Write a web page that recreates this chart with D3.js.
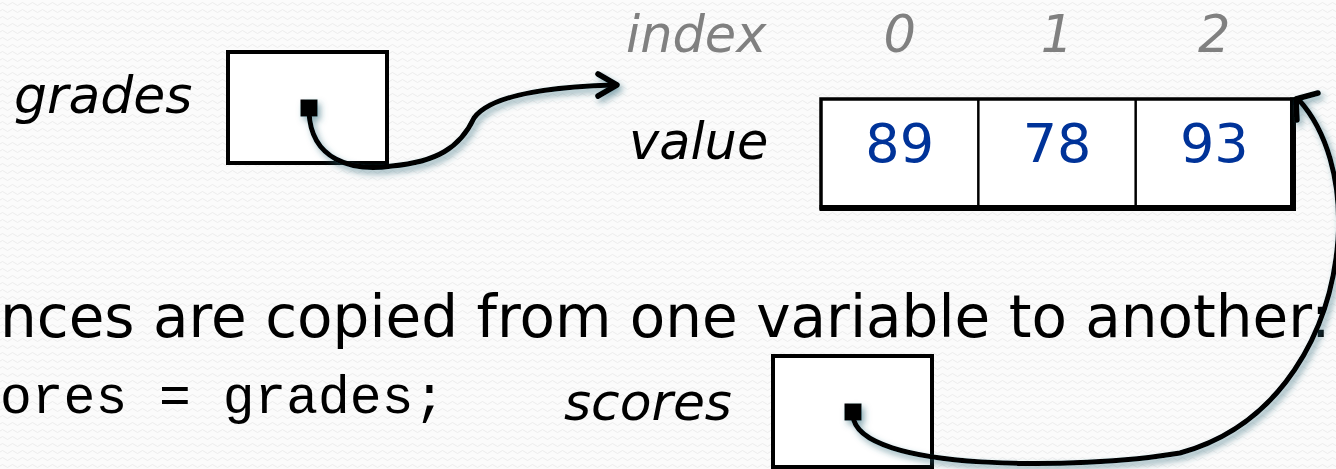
<!DOCTYPE html>
<html>
<head>
<meta charset="utf-8">
<script src="https://cdn.jsdelivr.net/npm/d3@7"></script>
<style>
  html, body { margin: 0; padding: 0; overflow: hidden; background: #fbfbfb; }
  svg { display: block; }
</style>
</head>
<body>
<svg id="chart" width="1336" height="469"></svg>
<script>
// ---- data ----
const indexLabels = ["0", "1", "2"];
const values = [89, 78, 93];
const headingText = "nces are copied from one variable to another:";
const codeText = "ores = grades;";
const varNames = ["grades", "scores"];
const rowLabels = ["index", "value"];

const W = 1336, H = 469;
const svg = d3.select("#chart");
const defs = svg.append("defs");

// background texture
const pat = defs.append("pattern").attr("id", "bg").attr("width", 10).attr("height", 7)
  .attr("patternUnits", "userSpaceOnUse");
pat.append("rect").attr("width", 10).attr("height", 7).attr("fill", "#fbfbfb");
pat.append("path").attr("d", "M0,4 Q2.5,1 5,4 T10,4").attr("fill", "none")
  .attr("stroke", "#ececec").attr("stroke-width", 1);
svg.append("rect").attr("width", W).attr("height", H).attr("fill", "url(#bg)");

// shadow
const f = defs.append("filter").attr("id", "shadow").attr("x", "-20%").attr("y", "-20%")
  .attr("width", "140%").attr("height", "140%");
f.append("feDropShadow").attr("dx", 3).attr("dy", 4).attr("stdDeviation", 3)
  .attr("flood-color", "#2f6a7a").attr("flood-opacity", 0.55);

// scales
const x = d3.scaleBand().domain(d3.range(values.length)).range([821, 1293]).padding(0);
const arrTop = 99, arrBottom = 208;

// ---- texts ----
const sans = "'DejaVu Sans', Verdana, sans-serif";
const mono = "'Liberation Mono', 'Courier New', monospace";

svg.append("text").attr("x", 14).attr("y", 113).attr("font-family", sans)
  .attr("font-style", "italic").attr("font-size", 52).attr("fill", "#000").text(varNames[0]);

svg.append("text").attr("x", 626).attr("y", 52).attr("font-family", sans)
  .attr("font-style", "italic").attr("font-size", 51).attr("fill", "#808080").text(rowLabels[0]);
svg.append("text").attr("x", 629).attr("y", 159).attr("font-family", sans)
  .attr("font-style", "italic").attr("font-size", 51).attr("fill", "#000").text(rowLabels[1]);

svg.selectAll("text.idx").data(indexLabels).join("text").attr("class", "idx")
  .attr("x", (d, i) => x(i) + x.bandwidth() / 2).attr("y", 52)
  .attr("text-anchor", "middle").attr("font-family", sans).attr("font-style", "italic")
  .attr("font-size", 51).attr("fill", "#808080").text(d => d);

svg.append("text").attr("x", 0).attr("y", 337).attr("font-family", sans)
  .attr("font-size", 58).attr("fill", "#000").text(headingText);

svg.append("text").attr("x", 0).attr("y", 413).attr("font-family", mono)
  .attr("font-size", 53).attr("fill", "#000").attr("xml:space", "preserve").text(codeText);

svg.append("text").attr("x", 564).attr("y", 420).attr("font-family", sans)
  .attr("font-style", "italic").attr("font-size", 52).attr("fill", "#000").text(varNames[1]);

// ---- variable boxes ----
function varBox(bx, by) {
  svg.append("rect").attr("x", bx).attr("y", by).attr("width", 159).attr("height", 111)
    .attr("fill", "#fff").attr("stroke", "#000").attr("stroke-width", 4);
}
varBox(228, 52);
varBox(773, 356);

// ---- array ----
svg.append("rect").attr("x", x(0)).attr("y", arrTop).attr("width", x.range()[1] - x(0))
  .attr("height", arrBottom - arrTop).attr("fill", "#fff").attr("stroke", "#000").attr("stroke-width", 3.5);
svg.selectAll("line.div").data(d3.range(1, values.length)).join("line").attr("class", "div")
  .attr("x1", d => x(d)).attr("x2", d => x(d)).attr("y1", arrTop).attr("y2", arrBottom)
  .attr("stroke", "#000").attr("stroke-width", 2.5);
svg.append("line").attr("x1", x.range()[1]).attr("x2", x.range()[1]).attr("y1", arrTop - 1.5).attr("y2", arrBottom + 3)
  .attr("stroke", "#000").attr("stroke-width", 6);
svg.append("line").attr("x1", x(0) - 1.5).attr("x2", x.range()[1] + 3).attr("y1", arrBottom).attr("y2", arrBottom)
  .attr("stroke", "#000").attr("stroke-width", 6);

svg.selectAll("text.val").data(values).join("text").attr("class", "val")
  .attr("x", (d, i) => x(i) + x.bandwidth() / 2).attr("y", 162)
  .attr("text-anchor", "middle").attr("font-family", sans).attr("font-size", 54)
  .attr("fill", "#003399").text(d => d);

// ---- pointers ----
const g = svg.append("g").attr("filter", "url(#shadow)");
function dot(cx, cy) {
  g.append("rect").attr("x", cx - 8.5).attr("y", cy - 8.5).attr("width", 17).attr("height", 17).attr("fill", "#000");
}
dot(309, 108);
dot(853, 412);

g.append("path")
  .attr("d", "M309,112 C311,160 352,172 392,166 C436,162 460,148 474,118 C490,96 542,87 614,85")
  .attr("fill", "none").attr("stroke", "#000").attr("stroke-width", 5).attr("stroke-linecap", "round");
g.append("path").attr("d", "M598,74 L617,85 L598,96")
  .attr("fill", "none").attr("stroke", "#000").attr("stroke-width", 5.5)
  .attr("stroke-linecap", "round").attr("stroke-linejoin", "round");

g.append("path")
  .attr("d", "M853,416 C858,472 1080,470 1180,453 C1282,425 1331,330 1338,240 C1342,180 1326,130 1299,100")
  .attr("fill", "none").attr("stroke", "#000").attr("stroke-width", 5).attr("stroke-linecap", "round");
g.append("path").attr("d", "M1318,93 L1296,99 L1297,120")
  .attr("fill", "none").attr("stroke", "#000").attr("stroke-width", 5.5)
  .attr("stroke-linecap", "round").attr("stroke-linejoin", "round");
</script>
</body>
</html>
